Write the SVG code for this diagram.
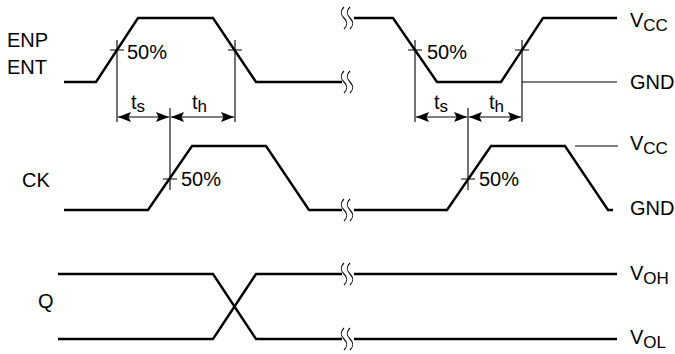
<svg xmlns="http://www.w3.org/2000/svg" width="675" height="354" viewBox="0 0 675 354">
<style>
.w{fill:none;stroke:#000;stroke-width:2.4;stroke-linejoin:miter}
.t{fill:none;stroke:#000;stroke-width:1.1}
text{font-family:"Liberation Sans",Arial,sans-serif;font-size:20px;fill:#000}
.sub{font-size:17px}
</style>
<defs>
<marker id="ah" viewBox="0 0 13 10" refX="13" refY="5" markerWidth="13" markerHeight="10" markerUnits="userSpaceOnUse" orient="auto-start-reverse">
<path d="M0,0 L13,5 L0,10 L2.5,5 Z" fill="#000"/>
</marker>
<path id="brk" d="M0,-11 c-4,4 -4,7 0,11 c4,4 4,7 0,11" fill="none" stroke="#000" stroke-width="1.1"/>
</defs>

<g id="labels">
<text x="7" y="47">ENP</text>
<text x="7" y="74">ENT</text>
<text x="22" y="187">CK</text>
<text x="38" y="308">Q</text>
</g>

<g id="enp-ent">
<path class="w" d="M64,82 H96 L138,18 H213 L256,82 H342"/>
<path class="w" d="M354,18 H393 L437,82 H501 L543,18 H617"/>
<use href="#brk" x="344" y="18"/>
<use href="#brk" x="350" y="18"/>
<use href="#brk" x="344" y="82"/>
<use href="#brk" x="350" y="82"/>
<path class="t" d="M522,82 H617"/>
<text x="630" y="27">V<tspan class="sub" dy="4">CC</tspan></text>
<text x="630" y="89">GND</text>
</g>

<g id="ck">
<path class="w" d="M64,210 H148 L192,146 H266 L309,210 H342"/>
<path class="w" d="M354,210 H447 L491,146 H565 L608,210 H613"/>
<use href="#brk" x="344" y="210"/>
<use href="#brk" x="350" y="210"/>
<path class="t" d="M575,146 H618"/>
<text x="630" y="150">V<tspan class="sub" dy="4">CC</tspan></text>
<text x="630" y="215">GND</text>
</g>

<g id="q">
<path class="w" d="M58,274 H213 L256,339 H342"/>
<path class="w" d="M58,339 H213 L256,274 H342"/>
<path class="w" d="M354,274 H617"/>
<path class="w" d="M354,339 H617"/>
<use href="#brk" x="344" y="274"/>
<use href="#brk" x="350" y="274"/>
<use href="#brk" x="344" y="339"/>
<use href="#brk" x="350" y="339"/>
<text x="630" y="280">V<tspan class="sub" dy="4">OH</tspan></text>
<text x="630" y="344">V<tspan class="sub" dy="4">OL</tspan></text>
</g>

<g id="connectors">
<path class="t" d="M117,40 V122 M235,40 V122 M170,108 V190 M110,50 H124 M228,50 H242 M163,179 H177"/>
<path class="t" d="M415,40 V122 M522,40 V122 M468,108 V190 M408,50 H422 M515,50 H529 M461,179 H475"/>
<path class="t" d="M118,117 H169" marker-start="url(#ah)" marker-end="url(#ah)"/>
<path class="t" d="M171,117 H234" marker-start="url(#ah)" marker-end="url(#ah)"/>
<path class="t" d="M416,117 H467" marker-start="url(#ah)" marker-end="url(#ah)"/>
<path class="t" d="M469,117 H521" marker-start="url(#ah)" marker-end="url(#ah)"/>
</g>

<g id="annotations">
<text x="127" y="59">50%</text>
<text x="427" y="59">50%</text>
<text x="181" y="186">50%</text>
<text x="479" y="186">50%</text>
<text x="131" y="109">t<tspan class="sub" dy="3">s</tspan></text>
<text x="192" y="109">t<tspan class="sub" dy="3">h</tspan></text>
<text x="434" y="109">t<tspan class="sub" dy="3">s</tspan></text>
<text x="489" y="109">t<tspan class="sub" dy="3">h</tspan></text>
</g>
</svg>
